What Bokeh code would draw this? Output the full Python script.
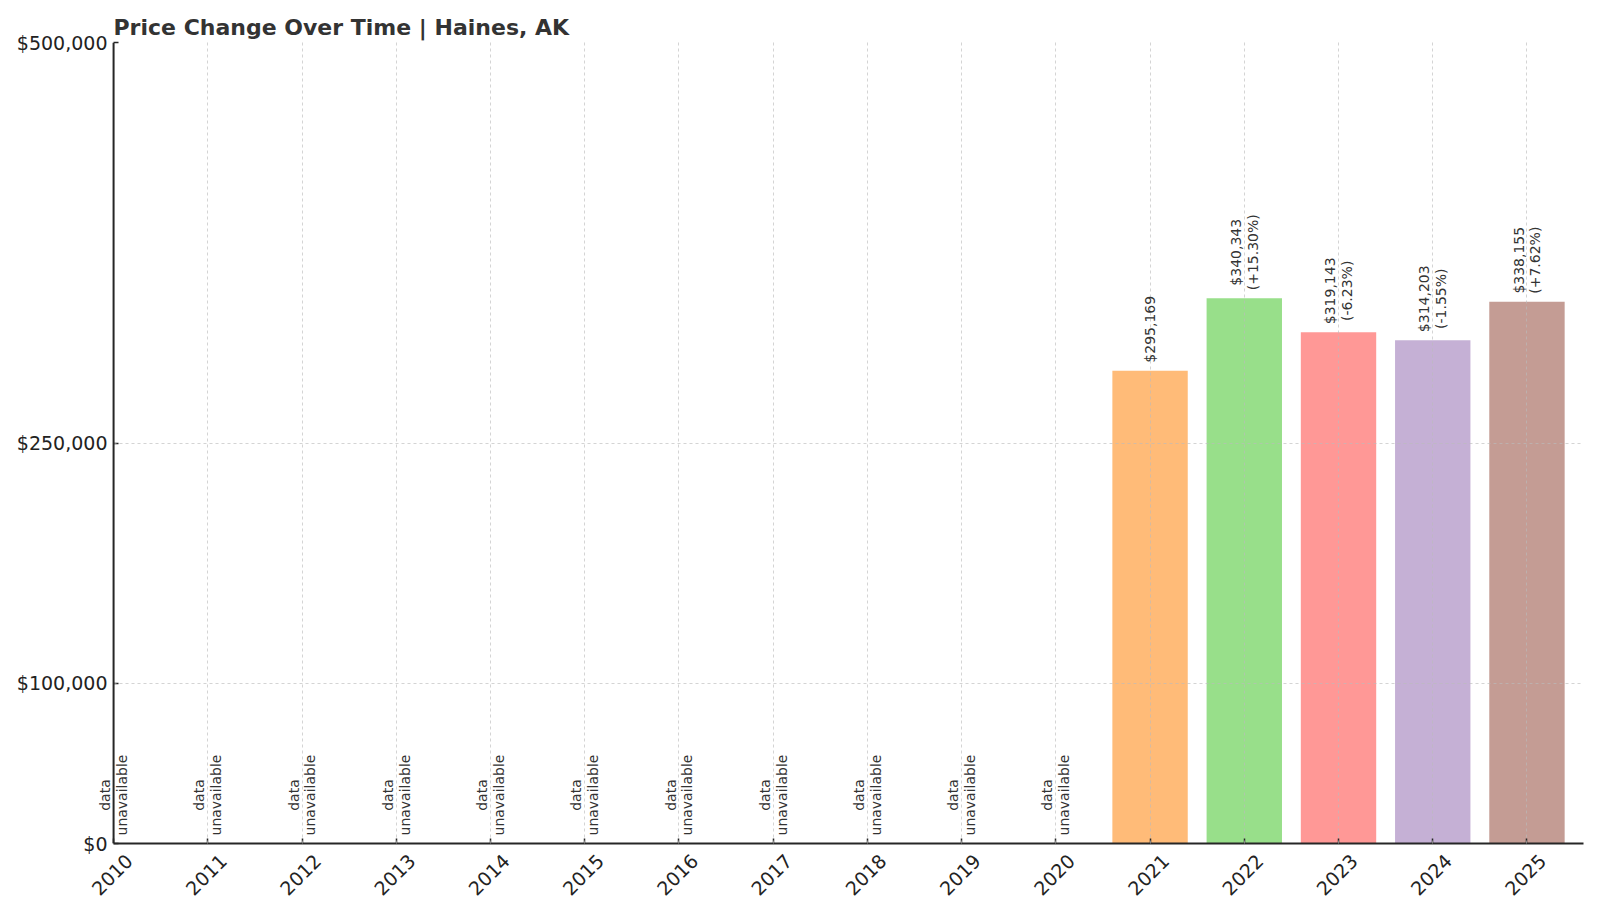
import math
from bokeh.plotting import figure
from bokeh.models import (ColumnDataSource, Label, Range1d, FixedTicker,
                          NumeralTickFormatter, LinearAxis, Span)
from bokeh.embed import file_html
from bokeh.resources import INLINE

# values
years = [2010, 2011, 2012, 2013, 2014, 2015, 2016, 2017,
         2018, 2019, 2020, 2021, 2022, 2023, 2024, 2025]
prices = [None, None, None, None, None, None, None, None,
          None, None, None, 295169, 340343, 319143, 314203, 338155]
changes = ["", "", "", "", "", "", "", "",
           "", "", "", "", "+15.30%", "-6.23%", "-1.55%", "+7.62%"]
bar_colors = ["#ffbb78", "#98df8a", "#ff9896", "#c5b0d5", "#c49c94"]
y_ticks = [0, 100000, 250000, 500000]
title_text = "Price Change Over Time | Haines, AK"
missing_text = "data\nunavailable"

FONT = "DejaVu Sans"
LBL_SIZE = 14
X0, X1 = 2010, 2025.6
FRAME_W = 1485
PAD = 0.16         # room left of the y axis line so the 2010 label is not clipped
LBL_SHIFT = 0.165  # moves the 45 degree year labels so they sit centred on the ticks
PAD_PX = round(PAD * FRAME_W / (X1 - X0 + PAD))
AXIS_COLOR = "#262626"

# rough DejaVu Sans advance widths (em), only used to centre the rotated labels
ADV = {"$": 0.636, ",": 0.318, ".": 0.318, "(": 0.39, ")": 0.39, "%": 0.95,
       "+": 0.838, "-": 0.361, "d": 0.635, "a": 0.613, "t": 0.392, "u": 0.634,
       "n": 0.634, "v": 0.592, "i": 0.278, "l": 0.278, "b": 0.635, "e": 0.615}


def text_w(s, size):
    return max(sum(ADV.get(c, 0.636) for c in line) for line in s.split("\n")) * size


# bars
bx, btop = [], []
for y, v in zip(years, prices):
    if v is not None:
        bx.append(y)
        btop.append(v)
bars = ColumnDataSource(dict(x=bx, top=btop, color=bar_colors))

p = figure(frame_width=FRAME_W, frame_height=801,
           x_range=Range1d(X0 - PAD, X1), y_range=Range1d(0, 500000),
           output_backend="svg", toolbar_location=None, tools="",
           min_border_left=98, min_border_right=1, min_border_top=42, min_border_bottom=55,
           title=title_text)

p.title.text_font = FONT
p.title.text_font_size = "22px"
p.title.text_font_style = "bold"
p.title.text_color = "#333333"
p.title.align = "left"
p.title.offset = PAD_PX
p.title.standoff = 6

p.outline_line_color = None
p.background_fill_color = "white"
p.border_fill_color = "white"

p.vbar(x="x", top="top", width=0.8, color="color", line_color=None, source=bars)

# annotations above each year: lines centred on each other, block centred on the tick
for y, v, c in zip(years, prices, changes):
    if v is None:
        t = missing_text
        base = 0
    else:
        t = "${:,}".format(v)
        if c:
            t += "\n(" + c + ")"
        base = v
    lines = t.split("\n")
    off = 8 + text_w(t, LBL_SIZE) / 2
    for k, line in enumerate(lines):
        p.add_layout(Label(x=y, y=base, text=line, angle=math.pi / 2,
                           x_offset=(k - (len(lines) - 1) / 2) * LBL_SIZE * 1.2, y_offset=off,
                           text_align="center", text_baseline="middle",
                           text_font=FONT, text_font_size="%dpx" % LBL_SIZE,
                           text_color="#333333"))

# main x axis: spine + inward tick marks (as minor ticks, so no empty labels)
xa = p.xaxis[0]
xa.ticker = FixedTicker(ticks=[], minor_ticks=years)
xa.bounds = (X0, X1)
xa.axis_line_color = AXIS_COLOR
xa.axis_line_width = 2
xa.minor_tick_line_color = AXIS_COLOR
xa.minor_tick_line_width = 1.5
xa.minor_tick_in = 5
xa.minor_tick_out = 0
xa.major_tick_in = 0
xa.major_tick_out = 0

# y axis: labels in the left panel, spine drawn at 2010
ya = p.yaxis[0]
ya.ticker = FixedTicker(ticks=y_ticks)
ya.formatter = NumeralTickFormatter(format="$0,0")
ya.axis_line_color = None
ya.major_tick_line_color = AXIS_COLOR
ya.major_tick_line_width = 1.5
ya.major_tick_in = PAD_PX + 5
ya.major_tick_out = -PAD_PX
ya.minor_tick_line_color = None
ya.major_label_text_font = FONT
ya.major_label_text_font_size = "19px"
ya.major_label_text_color = "#222222"
ya.major_label_standoff = 6 - PAD_PX
p.add_layout(Span(location=X0, dimension="height", line_color=AXIS_COLOR, line_width=2))

# second x axis only for the year labels
p.extra_x_ranges = {"lbl": Range1d(X0 - PAD - LBL_SHIFT, X1 - LBL_SHIFT)}
lab_axis = LinearAxis(x_range_name="lbl", ticker=FixedTicker(ticks=years),
                      major_label_orientation=math.pi / 4,
                      axis_line_color=None, major_tick_line_color=None,
                      minor_tick_line_color=None, major_tick_in=0, major_tick_out=0,
                      major_label_standoff=14,
                      major_label_text_font=FONT, major_label_text_font_size="19px",
                      major_label_text_color="#222222")
p.add_layout(lab_axis, "below")

p.xgrid.ticker = FixedTicker(ticks=years)
p.grid.grid_line_color = "#bbbbbb"
p.grid.grid_line_alpha = 0.8
p.grid.grid_line_width = 0.8
p.grid.grid_line_dash = "3 3"
p.grid.level = "annotation"
p.ygrid.cross_bounds = (X0, X1)

open("out.html", "w").write(file_html(p, INLINE))
